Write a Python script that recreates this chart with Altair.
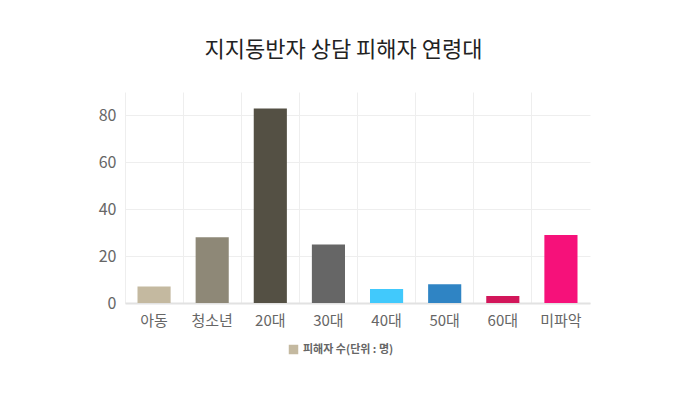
import altair as alt
import pandas as pd

categories = ['아동', '청소년', '20대', '30대', '40대', '50대', '60대', '미파악']
victims = [7, 28, 83, 25, 6, 8, 3, 29]
bar_colors = ['#c4b9a0', '#8e8877', '#545044', '#666666', '#41c9fc', '#2f84c4', '#d2165a', '#f6117a']
series_name = '피해자 수(단위 : 명)'

df = pd.DataFrame({'age': categories, 'count': victims, 'series': series_name})

font = 'Noto Sans CJK KR'

x = alt.X('age:N', sort=categories, title=None,
          scale=alt.Scale(paddingInner=0.43, paddingOuter=0.215),
          axis=alt.Axis(labelAngle=0, labelFontSize=15, labelColor='#666666', labelFont=font,
                        labelPadding=10, ticks=False, domainColor='#e2e2e2', domainWidth=2,
                        grid=True, gridColor='#eeeeee', bandPosition=-0.377))

bars = alt.Chart(df).mark_bar().encode(
    x=x,
    y=alt.Y('count:Q', title=None, scale=alt.Scale(domain=[0, 90], nice=False),
            axis=alt.Axis(values=[0, 20, 40, 60, 80], labelFontSize=16, labelColor='#666666',
                          labelFont=font, labelPadding=9, ticks=False, domain=False,
                          gridColor='#eeeeee')),
    color=alt.Color('age:N', sort=categories, legend=None,
                    scale=alt.Scale(domain=categories, range=bar_colors)),
)

# invisible layer that only carries the single legend entry
legend_layer = alt.Chart(df).mark_point(filled=True, size=0).encode(
    x=alt.X('age:N', sort=categories),
    y=alt.Y('count:Q'),
    fill=alt.Fill('series:N', title=None,
                  scale=alt.Scale(domain=[series_name], range=['#c4b9a0']),
                  legend=alt.Legend(orient='none', legendX=163, legendY=252, symbolType='square',
                                    symbolSize=90, symbolOpacity=1, labelFontSize=11,
                                    labelFontWeight='bold', labelColor='#666666',
                                    labelFont=font, symbolStrokeWidth=0)),
)

chart = alt.layer(bars, legend_layer).properties(
    width=465,
    height=211,
    autosize=alt.AutoSizeParams(type='none'),
    padding={'left': 117, 'top': 84, 'right': 100, 'bottom': 80},
    title=alt.TitleParams('지지동반자 상담 피해자 연령대', font=font, fontSize=22,
                          fontWeight='normal', color='#222222', offset=30, dx=-14),
).configure_view(strokeWidth=0)

chart.save("out.html", embed_options={"renderer": "svg", "actions": False})
